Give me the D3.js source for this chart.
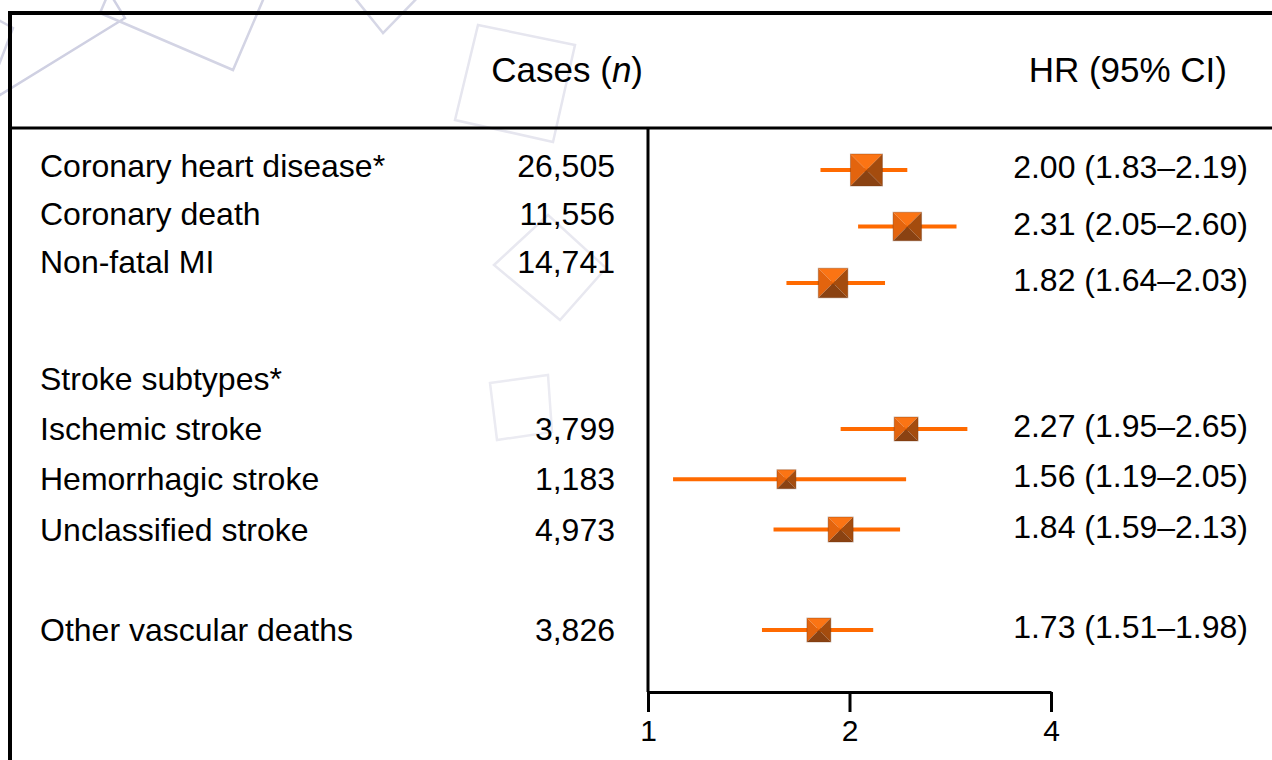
<!DOCTYPE html>
<html>
<head>
<meta charset="utf-8">
<script src="https://cdn.jsdelivr.net/npm/d3@7"></script>
<style>
  body { margin: 0; background: #fff; }
  svg { display: block; font-family: "Liberation Sans", Arial, sans-serif; }
</style>
</head>
<body>
<svg id="chart" width="1272" height="760"></svg>
<script>
// rows of the table, blank strings are spacer rows
var outcomes = ["Coronary heart disease*", "Coronary death", "Non-fatal MI", "",
                "Stroke subtypes*", "Ischemic stroke", "Hemorrhagic stroke", "Unclassified stroke", "",
                "Other vascular deaths"];
var cases = [26505, 11556, 14741, null, null, 3799, 1183, 4973, null, 3826];
var hrLabels = ["2.00 (1.83\u20132.19)", "2.31 (2.05\u20132.60)", "1.82 (1.64\u20132.03)", null,
                null, "2.27 (1.95\u20132.65)", "1.56 (1.19\u20132.05)", "1.84 (1.59\u20132.13)", null,
                "1.73 (1.51\u20131.98)"];
// where the squares and whiskers sit on the plot
var hrPoint = [2.12, 2.44, 1.89, null, null, 2.43, 1.61, 1.94, null, 1.80];
var ciLow   = [1.81, 2.06, 1.61, null, null, 1.94, 1.09, 1.54, null, 1.48];
var ciHigh  = [2.44, 2.89, 2.26, null, null, 3.00, 2.43, 2.38, null, 2.17];
var xTicks = [1, 2, 4];

// faint background decoration
var watermark = [
  {pts: [[125,18],[0,95],[-77,-30],[48,-107]], c: "#cfd0e2"},
  {pts: [[233,70],[100,13],[157,-120],[290,-63]], c: "#d3d4e4"},
  {pts: [[383,33],[350,-8],[392,-45],[425,-10]], c: "#d6d7e6"},
  {pts: [[478,25],[575,45],[553,142],[455,120]], c: "#e6e6ef"},
  {pts: [[494,265],[548,215],[606,268],[560,320]], c: "#e8e8f0"},
  {pts: [[490,383],[548,375],[552,432],[497,440]], c: "#ebebf2"},
  {pts: [[0,62],[13,28],[-20,10]], c: "#d3d4e4"}
];

var svg = d3.select("#chart");
var font = 32;

var x = d3.scaleLog().base(2).domain([1, 4]).range([648, 1051]);
// row slot -> text baseline, the two halves of the table are spaced a bit differently
var yLeft = d3.scaleLinear().domain([0, 2, 4, 9]).range([177, 273, 390, 641]);
var yRight = d3.scaleLinear().domain([0, 2, 5, 9]).range([178, 291, 437, 638]);
var sz = d3.scaleLog().domain([1183, 26505]).range([19, 32]);

svg.append("g").selectAll("polygon")
  .data(watermark)
  .enter().append("polygon")
  .attr("points", d => d.pts.join(" "))
  .attr("fill", "none")
  .attr("stroke", d => d.c)
  .attr("stroke-width", 2.5);

// frame
var frame = svg.append("g").attr("stroke", "#000");
frame.append("line").attr("x1", 8).attr("x2", 1272).attr("y1", 13).attr("y2", 13).attr("stroke-width", 4);
frame.append("line").attr("x1", 10).attr("x2", 10).attr("y1", 11).attr("y2", 760).attr("stroke-width", 4);
frame.append("line").attr("x1", 10).attr("x2", 1272).attr("y1", 128).attr("y2", 128).attr("stroke-width", 3);
frame.append("line").attr("x1", x(1)).attr("x2", x(1)).attr("y1", 128).attr("y2", 692).attr("stroke-width", 3);

// headers
var casesHead = svg.append("text").attr("x", 643).attr("y", 82)
  .attr("text-anchor", "end").attr("font-size", 35).attr("fill", "#000");
casesHead.append("tspan").text("Cases (");
casesHead.append("tspan").attr("font-style", "italic").text("n");
casesHead.append("tspan").text(")");
svg.append("text").attr("x", 1227).attr("y", 82)
  .attr("text-anchor", "end").attr("font-size", 35).text("HR (95% CI)");

var idx = d3.range(outcomes.length);

svg.append("g").selectAll("text")
  .data(idx.filter(i => outcomes[i] !== ""))
  .enter().append("text")
  .attr("x", 40)
  .attr("y", i => yLeft(i))
  .attr("font-size", font)
  .text(i => outcomes[i]);

svg.append("g").selectAll("text")
  .data(idx.filter(i => cases[i] != null))
  .enter().append("text")
  .attr("x", 615)
  .attr("y", i => yLeft(i))
  .attr("text-anchor", "end")
  .attr("font-size", font)
  .text(i => d3.format(",")(cases[i]));

svg.append("g").selectAll("text")
  .data(idx.filter(i => hrLabels[i] != null))
  .enter().append("text")
  .attr("x", 1248)
  .attr("y", i => yRight(i))
  .attr("text-anchor", "end")
  .attr("font-size", font)
  .text(i => hrLabels[i]);

// whiskers and squares
var plotted = idx.filter(i => hrPoint[i] != null);
var markY = i => yRight(i) - 8;

svg.append("g").selectAll("line")
  .data(plotted)
  .enter().append("line")
  .attr("x1", i => x(ciLow[i]))
  .attr("x2", i => x(ciHigh[i]))
  .attr("y1", markY)
  .attr("y2", markY)
  .attr("stroke", "#ff6a00")
  .attr("stroke-width", 4);

var faces = [
  {f: h => [[-h,-h],[h,-h],[0,0]], c: "#fb7414"},
  {f: h => [[-h,-h],[0,0],[-h,h]], c: "#e3640e"},
  {f: h => [[h,-h],[h,h],[0,0]],  c: "#a44c0e"},
  {f: h => [[-h,h],[0,0],[h,h]],  c: "#8a4212"}
];

var marks = svg.append("g").selectAll("g")
  .data(plotted)
  .enter().append("g")
  .attr("transform", i => "translate(" + x(hrPoint[i]) + "," + markY(i) + ")");

marks.selectAll("polygon")
  .data(i => faces.map(fc => ({pts: fc.f(sz(cases[i]) / 2), c: fc.c})))
  .enter().append("polygon")
  .attr("points", d => d.pts.join(" "))
  .attr("fill", d => d.c);

marks.append("rect")
  .attr("x", i => -sz(cases[i]) / 2)
  .attr("y", i => -sz(cases[i]) / 2)
  .attr("width", i => sz(cases[i]))
  .attr("height", i => sz(cases[i]))
  .attr("fill", "none")
  .attr("stroke", "#6e3410")
  .attr("stroke-opacity", 0.35)
  .attr("stroke-width", 1);

// log axis
var axis = svg.append("g")
  .attr("transform", "translate(0,692)")
  .call(d3.axisBottom(x).tickValues(xTicks).tickFormat(d3.format("d"))
    .tickSize(20).tickSizeOuter(0).tickPadding(8));
axis.select(".domain").attr("stroke", "#000").attr("stroke-width", 3);
axis.selectAll(".tick line").attr("stroke", "#000").attr("stroke-width", 3);
axis.selectAll(".tick text")
  .attr("font-family", "Liberation Sans, Arial, sans-serif")
  .attr("font-size", 30)
  .attr("fill", "#000");
</script>
</body>
</html>
